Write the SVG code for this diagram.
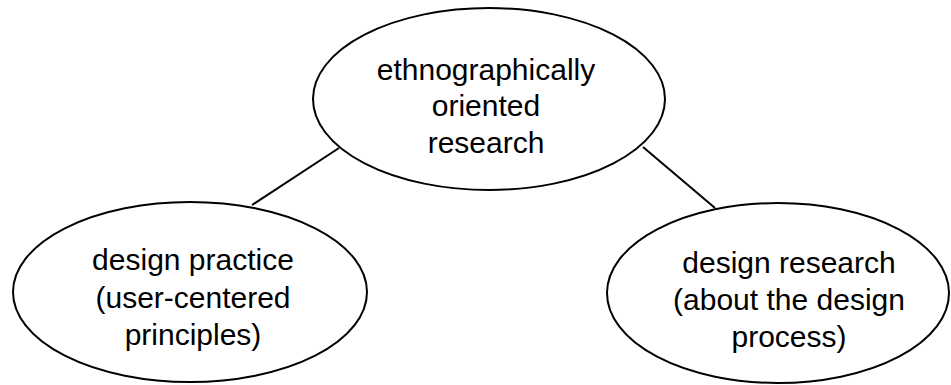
<svg xmlns="http://www.w3.org/2000/svg" width="951" height="385" viewBox="0 0 951 385">
  <style>
    .node { fill: #ffffff; stroke: #000000; stroke-width: 2; }
    .edge { stroke: #000000; stroke-width: 2; fill: none; }
    .label { font-family: "Liberation Sans", Arial, sans-serif; font-size: 30px; fill: #000000; text-anchor: middle; }
  </style>
  <rect width="951" height="385" fill="#ffffff"/>

  <g id="connectors">
    <line class="edge" x1="339" y1="148" x2="252" y2="205"/>
    <line class="edge" x1="643" y1="147" x2="715" y2="208"/>
  </g>

  <g id="ethnographic-research">
    <ellipse class="node" cx="489" cy="99" rx="176" ry="91"/>
    <text class="label" x="486" y="80">ethnographically</text>
    <text class="label" x="486" y="116">oriented</text>
    <text class="label" x="486" y="153">research</text>
  </g>

  <g id="design-practice">
    <ellipse class="node" cx="190" cy="292" rx="177" ry="90"/>
    <text class="label" x="193" y="270">design practice</text>
    <text class="label" x="193" y="308">(user-centered</text>
    <text class="label" x="193" y="345">principles)</text>
  </g>

  <g id="design-research">
    <ellipse class="node" cx="778" cy="293" rx="171" ry="90"/>
    <text class="label" x="789" y="273">design research</text>
    <text class="label" x="789" y="310">(about the design</text>
    <text class="label" x="789" y="347">process)</text>
  </g>
</svg>
